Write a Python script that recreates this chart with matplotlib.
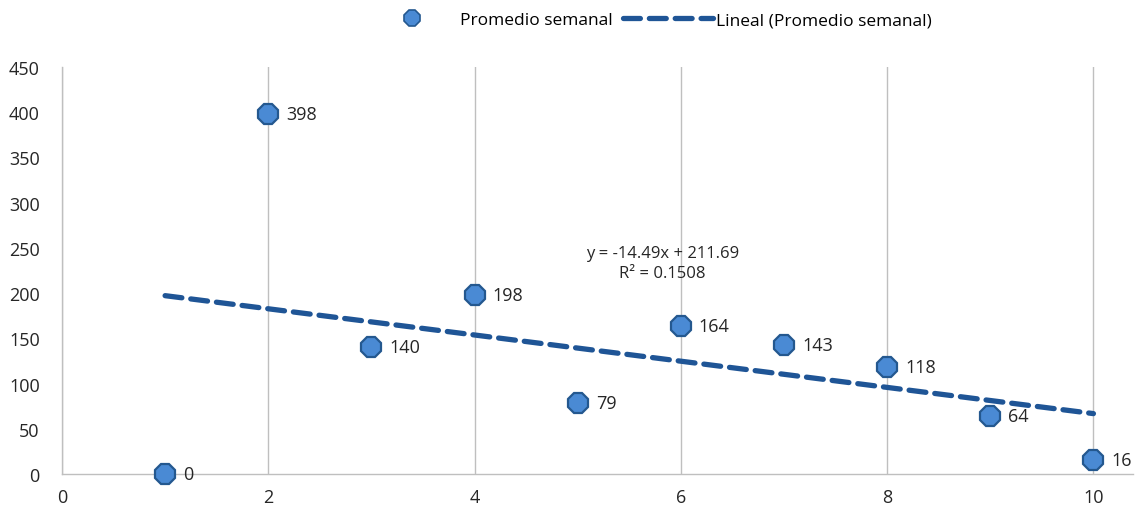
import numpy as np
import matplotlib

matplotlib.use("Agg")
import matplotlib.pyplot as plt
from matplotlib.lines import Line2D

plt.rcParams["font.family"] = ["Open Sans", "DejaVu Sans"]

# promedio semanal por semana
semanas = [1, 2, 3, 4, 5, 6, 7, 8, 9, 10]
promedio = [0, 398, 140, 198, 79, 164, 143, 118, 64, 16]
x_ticks = [0, 2, 4, 6, 8, 10]
y_ticks = [0, 50, 100, 150, 200, 250, 300, 350, 400, 450]

# línea de tendencia lineal (coeficientes publicados)
pendiente = -14.49
intercepto = 211.69
r_cuadrado = 0.1508

punto_color = "#4A8AD4"
borde_color = "#24588F"
tendencia_color = "#1F5596"
gris = "#BFBFBF"
texto = "#262626"

fig = plt.figure(figsize=(11.39, 5.10), dpi=100)
ax = fig.add_axes([0.0544, 0.0686, 0.94, 0.798])

x_tend = np.array([semanas[0], semanas[-1]], dtype=float)
ax.plot(
    x_tend,
    pendiente * x_tend + intercepto,
    linestyle=(0, (3.2, 1.7)),
    color=tendencia_color,
    lw=3.8,
    dash_capstyle="round",
    zorder=2,
)
ax.plot(
    semanas, promedio, linestyle="none", marker="8", markersize=16,
    markerfacecolor=punto_color, markeredgecolor=borde_color,
    markeredgewidth=1.6, zorder=3, clip_on=False,
)

for xi, yi in zip(semanas, promedio):
    ax.annotate(
        f"{yi}", (xi, yi), xytext=(13, 0), textcoords="offset points",
        va="center", ha="left", fontsize=13, color=texto, zorder=4,
    )

ax.text(
    5.82, 233,
    f"y = {pendiente:.2f}x + {intercepto:.2f}\nR² = {r_cuadrado:.4f}",
    ha="center", va="center", fontsize=12, color=texto,
    linespacing=1.3, zorder=4,
)

ax.set_xlim(0, 10.38)
ax.set_ylim(0, 450)
ax.set_xticks(x_ticks)
ax.set_yticks(y_ticks)
ax.tick_params(length=0, labelsize=13, colors=texto)
ax.tick_params(axis="y", pad=16)
ax.tick_params(axis="x", pad=10)
ax.xaxis.grid(True, color=gris, lw=1.0)
ax.yaxis.grid(False)
ax.set_axisbelow(True)
for side in ("top", "right"):
    ax.spines[side].set_visible(False)
for side in ("left", "bottom"):
    ax.spines[side].set_color(gris)
    ax.spines[side].set_linewidth(1.0)

handles = [
    Line2D([], [], linestyle="none", marker="8", markersize=12,
           markerfacecolor=punto_color, markeredgecolor=borde_color,
           markeredgewidth=1.2),
    Line2D([], [], linestyle=(0, (3.2, 1.7)), color=tendencia_color, lw=3.8,
           dash_capstyle="round"),
]
fig.legend(
    handles, ["Promedio semanal", "Lineal (Promedio semanal)"],
    loc="upper center", bbox_to_anchor=(0.57, 1.005), ncol=2, frameon=False,
    fontsize=12.5, handlelength=5.2, columnspacing=0.6, handletextpad=0.15,
)

fig.savefig("out.png", dpi=100)
plt.close(fig)
